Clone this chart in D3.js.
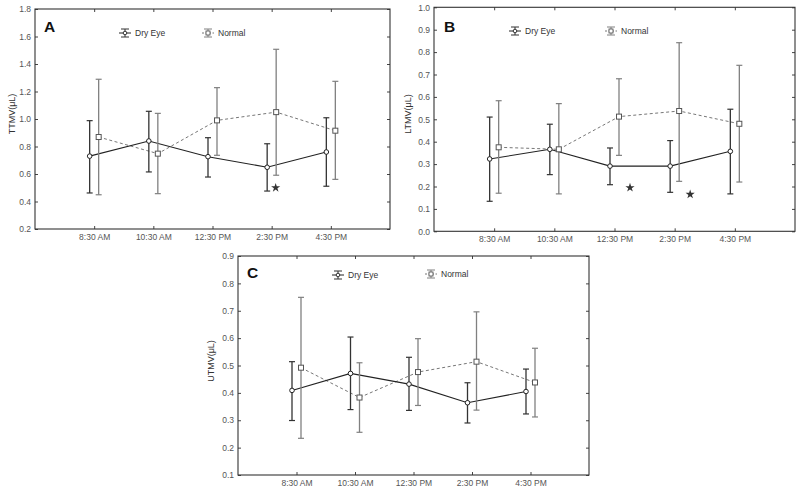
<!DOCTYPE html>
<html><head><meta charset="utf-8">
<script src="https://cdn.jsdelivr.net/npm/d3@7/dist/d3.min.js"></script>
<style>body{margin:0;background:#fff}svg{display:block}text{font-family:"Liberation Sans",Arial,sans-serif}</style>
</head><body><svg id="c" width="800" height="491"></svg>
<script>
const times = ["8:30 AM","10:30 AM","12:30 PM","2:30 PM","4:30 PM"];
const seriesNames = ["Dry Eye","Normal"];

// Panel A: TTMV
const aDryMean = [0.73, 0.84, 0.726, 0.649, 0.76];
const aDryHi   = [0.988, 1.056, 0.864, 0.82, 1.009];
const aDryLo   = [0.462, 0.615, 0.578, 0.476, 0.511];
const aNorMean = [0.869, 0.748, 0.99, 1.05, 0.915];
const aNorHi   = [1.289, 1.041, 1.228, 1.507, 1.274];
const aNorLo   = [0.449, 0.457, 0.736, 0.591, 0.561];
const aTicks = [0.2,0.4,0.6,0.8,1.0,1.2,1.4,1.6,1.8];
const aStars = [{t:"2:30 PM", v:0.5}];

// Panel B: LTMV
const bDryMean = [0.323, 0.366, 0.291, 0.291, 0.357];
const bDryHi   = [0.51, 0.478, 0.372, 0.405, 0.545];
const bDryLo   = [0.134, 0.253, 0.208, 0.174, 0.167];
const bNorMean = [0.375, 0.366, 0.512, 0.537, 0.48];
const bNorHi   = [0.583, 0.57, 0.681, 0.842, 0.741];
const bNorLo   = [0.17, 0.167, 0.339, 0.223, 0.22];
const bTicks = [0.0,0.1,0.2,0.3,0.4,0.5,0.6,0.7,0.8,0.9,1.0];
const bStars = [{t:"12:30 PM", v:0.195},{t:"2:30 PM", v:0.165}];

// Panel C: UTMV
const cDryMean = [0.409, 0.471, 0.432, 0.364, 0.405];
const cDryHi   = [0.514, 0.604, 0.53, 0.437, 0.487];
const cDryLo   = [0.299, 0.339, 0.336, 0.29, 0.323];
const cNorMean = [0.492, 0.383, 0.476, 0.514, 0.438];
const cNorHi   = [0.749, 0.51, 0.598, 0.696, 0.563];
const cNorLo   = [0.234, 0.256, 0.354, 0.337, 0.312];
const cTicks = [0.1,0.2,0.3,0.4,0.5,0.6,0.7,0.8,0.9];
const cStars = [];

const svg = d3.select("#c");

function panel(cfg){
  const g = svg.append("g");
  const x = d3.scalePoint().domain(times).range([cfg.x0, cfg.x1]).padding(1);
  const y = d3.scaleLinear().domain(cfg.domain).range([cfg.y1, cfg.y0]);
  const fmt = d3.format(".1f");

  // axes (inward ticks)
  const left = g.append("g").attr("transform",`translate(${cfg.x0},0)`)
    .call(d3.axisLeft(y).tickValues(cfg.ticks).tickFormat(fmt).tickSizeInner(-3).tickSizeOuter(0).tickPadding(4));
  const right = g.append("g").attr("transform",`translate(${cfg.x1},0)`)
    .call(d3.axisRight(y).tickValues(cfg.ticks).tickFormat("").tickSizeInner(-3).tickSizeOuter(0));
  const bottom = g.append("g").attr("transform",`translate(0,${cfg.y1})`)
    .call(d3.axisBottom(x).tickSizeInner(-3).tickSizeOuter(0).tickPadding(5));
  const top = g.append("g").attr("transform",`translate(0,${cfg.y0})`)
    .call(d3.axisTop(x).tickFormat("").tickSizeInner(-3).tickSizeOuter(0));
  [left,right,bottom,top].forEach(a=>{
    a.selectAll(".domain").remove();
    a.selectAll(".tick line").attr("stroke","#444");
    a.selectAll("text").attr("fill","#555").style("font-size","8.5px");
  });
  g.append("rect").attr("x",cfg.x0).attr("y",cfg.y0).attr("width",cfg.x1-cfg.x0).attr("height",cfg.y1-cfg.y0)
    .attr("fill","none").attr("stroke","#333").attr("stroke-width",1.1);

  // y title
  g.append("text").attr("transform",`translate(${cfg.titleX},${cfg.titleY}) rotate(-90)`)
    .attr("text-anchor","middle").style("font-size","9px").attr("fill","#333").text(cfg.title);
  // panel letter
  g.append("text").attr("x",cfg.letterX).attr("y",cfg.letterY).style("font-size","15.5px").style("font-weight","bold")
    .attr("fill","#111").text(cfg.letter);

  const series = [
    {name:seriesNames[0], mean:cfg.dry[0], hi:cfg.dry[1], lo:cfg.dry[2], off:-4.5, color:"#222", bar:"#333", dash:null, shape:"circle"},
    {name:seriesNames[1], mean:cfg.nor[0], hi:cfg.nor[1], lo:cfg.nor[2], off:4.5, color:"#777", bar:"#808080", dash:"3,2.5", shape:"square"}
  ];
  // lines first (normal then dry)
  series.slice().reverse().forEach(s=>{
    const line = d3.line().x((d,i)=>x(times[i])+s.off).y(d=>y(d));
    g.append("path").datum(s.mean).attr("d",line).attr("fill","none").attr("stroke",s.color)
      .attr("stroke-width",s.dash?1:1.1).attr("stroke-dasharray",s.dash);
  });
  series.forEach(s=>{
    const eg = g.append("g");
    s.mean.forEach((m,i)=>{
      const cx = x(times[i])+s.off;
      eg.append("line").attr("x1",cx).attr("x2",cx).attr("y1",y(s.hi[i])).attr("y2",y(s.lo[i])).attr("stroke",s.bar).attr("stroke-width",1.3);
      [s.hi[i],s.lo[i]].forEach(v=>{
        eg.append("line").attr("x1",cx-3).attr("x2",cx+3).attr("y1",y(v)).attr("y2",y(v)).attr("stroke",s.bar).attr("stroke-width",1.2);
      });
    });
  });
  series.forEach(s=>{
    s.mean.forEach((m,i)=>{
      const cx = x(times[i])+s.off, cy = y(m);
      if(s.shape==="circle"){
        g.append("circle").attr("cx",cx).attr("cy",cy).attr("r",2.3).attr("fill","#fff").attr("stroke","#222").attr("stroke-width",1);
      } else {
        g.append("rect").attr("x",cx-2.5).attr("y",cy-2.5).attr("width",5).attr("height",5).attr("fill","#fff").attr("stroke","#555").attr("stroke-width",1);
      }
    });
  });
  // stars
  cfg.stars.forEach(st=>{
    g.append("path").attr("d",d3.symbol().type(d3.symbolStar).size(26)())
      .attr("transform",`translate(${x(st.t)+cfg.starOff},${y(st.v)})`).attr("fill","#333");
  });
  // legend
  series.forEach((s,k)=>{
    const lx = cfg.legend[k][0], ly = cfg.legend[k][1];
    const lg = g.append("g");
    lg.append("line").attr("x1",lx-4).attr("x2",lx+4).attr("y1",ly-4).attr("y2",ly-4).attr("stroke",s.bar).attr("stroke-width",1);
    lg.append("line").attr("x1",lx-4).attr("x2",lx+4).attr("y1",ly+4).attr("y2",ly+4).attr("stroke",s.bar).attr("stroke-width",1);
    lg.append("line").attr("x1",lx).attr("x2",lx).attr("y1",ly-4).attr("y2",ly+4).attr("stroke",s.bar).attr("stroke-width",1);
    lg.append("line").attr("x1",lx-6).attr("x2",lx+6).attr("y1",ly).attr("y2",ly).attr("stroke",s.color).attr("stroke-width",1).attr("stroke-dasharray",s.dash?"2,1.5":null);
    if(s.shape==="circle") lg.append("circle").attr("cx",lx).attr("cy",ly).attr("r",1.8).attr("fill","#fff").attr("stroke","#222").attr("stroke-width",0.9);
    else lg.append("rect").attr("x",lx-2).attr("y",ly-2).attr("width",4).attr("height",4).attr("fill","#fff").attr("stroke","#555").attr("stroke-width",0.9);
    lg.append("text").attr("x",lx+10).attr("y",ly+3).style("font-size","8.5px").attr("fill","#333").text(s.name);
  });
}

panel({x0:35,x1:390,y0:9,y1:229,domain:[0.2,1.8],ticks:aTicks,title:"TTMV(μL)",titleX:15,titleY:114,
  letter:"A",letterX:44,letterY:32,dry:[aDryMean,aDryHi,aDryLo],nor:[aNorMean,aNorHi,aNorLo],
  stars:aStars,starOff:4,legend:[[125,33],[208,33]]});
panel({x0:434,x1:795,y0:7.3,y1:231.3,domain:[0,1],ticks:bTicks,title:"LTMV(μL)",titleX:411,titleY:114,
  letter:"B",letterX:444,letterY:31.5,dry:[bDryMean,bDryHi,bDryLo],nor:[bNorMean,bNorHi,bNorLo],
  stars:bStars,starOff:15.5,legend:[[515,31],[611,31]]});
panel({x0:238,x1:589,y0:256,y1:475,domain:[0.1,0.9],ticks:cTicks,title:"UTMV(μL)",titleX:214,titleY:361,
  letter:"C",letterX:247,letterY:277.5,dry:[cDryMean,cDryHi,cDryLo],nor:[cNorMean,cNorHi,cNorLo],
  stars:cStars,starOff:0,legend:[[338,275],[431,274]]});
</script></body></html>
